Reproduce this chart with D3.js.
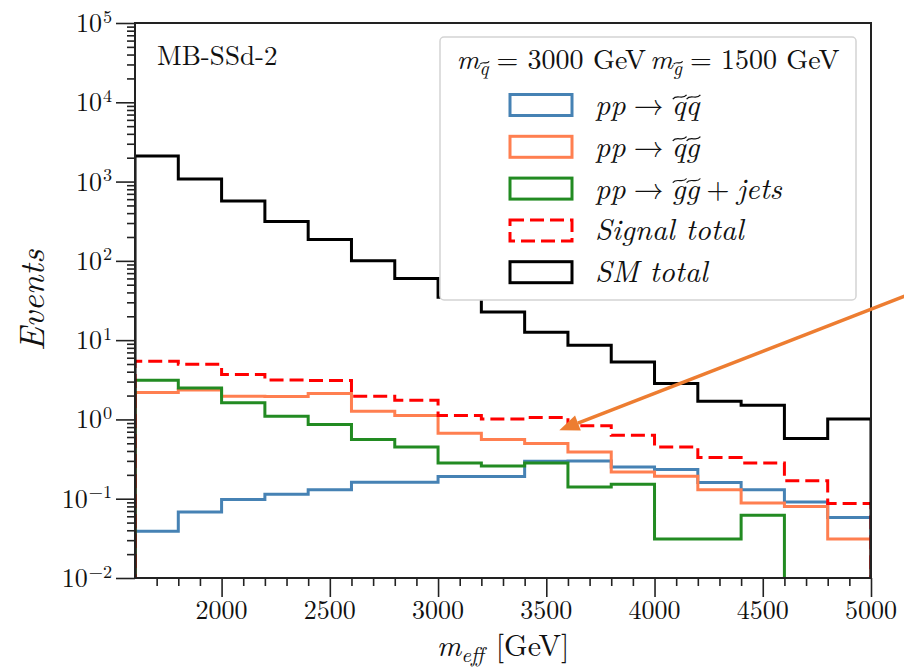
<!DOCTYPE html>
<html>
<head>
<meta charset="utf-8">
<script src="https://cdn.jsdelivr.net/npm/d3@7"></script>
<style>
body { margin: 0; background: #fff; }
svg text { font-family: "Latin Modern Roman", "Liberation Serif", serif; fill: #111; }
</style>
</head>
<body>
<svg width="904" height="670"></svg>
<script>
// bin edges in GeV (17 bins of 200 GeV)
var binEdges = [1600, 1800, 2000, 2200, 2400, 2600, 2800, 3000, 3200, 3400,
                3600, 3800, 4000, 4200, 4400, 4600, 4800, 5000];

// events per bin
var qqVals  = [0.039, 0.068, 0.098, 0.114, 0.130, 0.161, 0.161, 0.190, 0.190,
               0.297, 0.300, 0.252, 0.233, 0.160, 0.130, 0.091, 0.058];
var qgVals  = [2.18, 2.35, 1.96, 1.95, 2.12, 1.27, 1.12, 0.67, 0.557,
               0.497, 0.389, 0.218, 0.192, 0.130, 0.088, 0.080, 0.031];
var ggVals  = [3.12, 2.50, 1.62, 1.10, 0.86, 0.557, 0.45, 0.283, 0.259,
               0.283, 0.141, 0.152, 0.031, 0.031, 0.062, 0, 0];
var sigVals = [5.42, 4.97, 3.68, 3.15, 3.10, 1.96, 1.75, 1.12, 1.01,
               1.06, 0.83, 0.632, 0.45, 0.33, 0.283, 0.168, 0.087];
var smVals  = [2100, 1075, 567, 314, 186, 100, 60, 34.8, 22.7,
               12.6, 8.6, 5.3, 2.84, 1.70, 1.51, 0.574, 1.01];

var xMajorTicks = [2000, 2500, 3000, 3500, 4000, 4500, 5000];
var yMajorTicks = [1e-2, 1e-1, 1e0, 1e1, 1e2, 1e3, 1e4, 1e5];
var yExponents  = ["\u22122", "\u22121", "0", "1", "2", "3", "4", "5"];

// annotation arrow (data coords), starts outside the axes on the right
var arrowFrom = [5180, 38];
var arrowTo   = [3560, 0.73];

var series = [
  {vals: qqVals,  color: "#4682b4", dash: null},
  {vals: qgVals,  color: "#ff7f50", dash: null},
  {vals: ggVals,  color: "#228b22", dash: null},
  {vals: sigVals, color: "#ff0000", dash: "14,6"},
  {vals: smVals,  color: "#000000", dash: null}
];

var FONT = "'Latin Modern Roman', 'Liberation Serif', serif";

var svg = d3.select("svg"),
    margin = {left: 135, top: 23, right: 33, bottom: 92},
    width = +svg.attr("width") - margin.left - margin.right,
    height = +svg.attr("height") - margin.top - margin.bottom;

svg.append("rect").attr("width", 904).attr("height", 670).attr("fill", "#fff");

var x = d3.scaleLinear().domain([1600, 5000]).range([0, width]);
var y = d3.scaleLog().domain([1e-2, 1e5]).range([height, 0]);

var g = svg.append("g").attr("transform", "translate(" + margin.left + "," + margin.top + ")");

g.append("clipPath").attr("id", "plotclip")
  .append("rect").attr("width", width).attr("height", height);

// helper: write a run of text pieces (italic / sub / sup / tilde) one after another
function rich(parent, px, py, pieces, size, anchor) {
  var grp = parent.append("g");
  var cx = 0;
  pieces.forEach(function (p) {
    var fs = p.sub ? size * 0.7 : (p.sup ? size * 0.7 : size);
    var dy = p.sub ? size * 0.2 : (p.sup ? -size * 0.36 : 0);
    var t = grp.append("text")
      .attr("x", cx).attr("y", dy)
      .attr("font-family", FONT)
      .style("font-size", fs + "px")
      .style("font-style", p.it ? "italic" : "normal")
      .text(p.t);
    var w = t.node().getComputedTextLength();
    if (p.tilde) {
      var x0 = cx + w * 0.08, x1 = cx + w * 1.08, yb = dy - fs * 0.6, h = fs * 0.07;
      var wd = x1 - x0;
      grp.append("path")
        .attr("d", "M" + x0 + "," + (yb + h) +
                   "C" + (x0 + wd * 0.3) + "," + (yb - h * 1.6) + " " +
                   (x0 + wd * 0.7) + "," + (yb + h * 1.6) + " " +
                   x1 + "," + (yb - h))
        .attr("fill", "none").attr("stroke", "#111").attr("stroke-width", 1.2);
    }
    cx += w + (p.gap || 0);
  });
  var off = anchor == "middle" ? -cx / 2 : (anchor == "end" ? -cx : 0);
  grp.attr("transform", "translate(" + (px + off) + "," + py + ")");
  return grp;
}

// step histograms
function yv(v) { return v > 0 ? y(v) : height + 10; }

var line = d3.line()
  .x(function (d) { return x(d[0]); })
  .y(function (d) { return yv(d[1]); })
  .curve(d3.curveStepAfter);

series.forEach(function (s) {
  var pts = [[binEdges[0], 0]];
  s.vals.forEach(function (v, i) { pts.push([binEdges[i], v]); });
  pts.push([binEdges[binEdges.length - 1], s.vals[s.vals.length - 1]]);
  pts.push([binEdges[binEdges.length - 1], 0]);
  g.append("path")
    .attr("clip-path", "url(#plotclip)")
    .attr("d", line(pts))
    .attr("fill", "none")
    .attr("stroke", s.color)
    .attr("stroke-width", 3)
    .attr("stroke-dasharray", s.dash)
    .attr("stroke-linejoin", "miter");
});

// axes
var xMinor = d3.range(1700, 5000, 100).filter(function (d) { return d % 500 != 0; });
var yMinor = [];
yMajorTicks.slice(0, -1).forEach(function (d) {
  for (var k = 2; k < 10; k++) yMinor.push(d * k);
});

g.append("g").attr("transform", "translate(0," + height + ")")
  .call(d3.axisBottom(x).tickValues(xMinor).tickSize(8).tickFormat(""));
g.append("g").attr("transform", "translate(0," + height + ")")
  .call(d3.axisBottom(x).tickValues(xMajorTicks).tickSize(19).tickFormat(""));
g.append("g")
  .call(d3.axisLeft(y).tickValues(yMinor).tickSize(8).tickFormat(""));
g.append("g")
  .call(d3.axisLeft(y).tickValues(yMajorTicks).tickSize(19).tickFormat(""));

g.selectAll(".domain").remove();
g.selectAll(".tick line").attr("stroke", "#222").attr("stroke-width", 1.6);

xMajorTicks.forEach(function (d) {
  g.append("text")
    .attr("x", x(d)).attr("y", height + 41)
    .attr("text-anchor", "middle")
    .attr("font-family", FONT)
    .style("font-size", "26px")
    .text(d);
});

yMajorTicks.forEach(function (d, i) {
  rich(g, -23, y(d) + 9, [{t: "10", gap: 1}, {t: yExponents[i], sup: true}], 26, "end");
});

// spines
g.append("rect").attr("width", width).attr("height", height)
  .attr("fill", "none").attr("stroke", "#222").attr("stroke-width", 2);

// axis labels
rich(svg, margin.left + width / 2, 656,
     [{t: "m", it: true}, {t: "eff", it: true, sub: true, gap: 12}, {t: "[GeV]"}], 30, "middle");
var ylab = svg.append("g").attr("transform", "translate(44," + (margin.top + height / 2) + ") rotate(-90)");
rich(ylab, 0, 0, [{t: "Events", it: true}], 35, "middle");

// region tag
g.append("text").attr("x", 22).attr("y", 42)
  .attr("font-family", FONT).style("font-size", "27px").text("MB-SSd-2");

// legend
var lg = svg.append("g");
lg.append("rect")
  .attr("x", 440).attr("y", 37).attr("width", 416).attr("height", 263)
  .attr("rx", 4).attr("fill", "#fff")
  .attr("stroke", "#d4d4d4").attr("stroke-width", 1.5);

rich(lg, 648, 69, [
  {t: "m", it: true}, {t: "q", it: true, sub: true, tilde: true, gap: 8},
  {t: "= 3000 GeV ", gap: 4},
  {t: "m", it: true}, {t: "g", it: true, sub: true, tilde: true, gap: 8},
  {t: "= 1500 GeV"}
], 28, "middle");

var legendRows = [
  [{t: "pp", it: true, gap: 8}, {t: "\u2192", gap: 8}, {t: "q", it: true, tilde: true}, {t: "q", it: true, tilde: true}],
  [{t: "pp", it: true, gap: 8}, {t: "\u2192", gap: 8}, {t: "q", it: true, tilde: true}, {t: "g", it: true, tilde: true}],
  [{t: "pp", it: true, gap: 8}, {t: "\u2192", gap: 8}, {t: "g", it: true, tilde: true}, {t: "g", it: true, tilde: true, gap: 7}, {t: "+", gap: 7}, {t: "jets", it: true}],
  [{t: "Signal total", it: true}],
  [{t: "SM total", it: true}]
];

legendRows.forEach(function (row, i) {
  var cy = 105 + i * 41.8;
  var s = series[i];
  lg.append("rect")
    .attr("x", 510).attr("y", cy - 10.5).attr("width", 62).attr("height", 21)
    .attr("fill", "none").attr("stroke", s.color).attr("stroke-width", 3)
    .attr("stroke-dasharray", s.dash);
  rich(lg, 595, cy + 10, row, 30, "start");
});

// orange annotation arrow
var ax0 = margin.left + x(arrowFrom[0]), ay0 = margin.top + y(arrowFrom[1]);
var ax1 = margin.left + x(arrowTo[0]),   ay1 = margin.top + y(arrowTo[1]);
var ang = Math.atan2(ay1 - ay0, ax1 - ax0);
var headL = 20, headW = 8;
var bx = ax1 - headL * Math.cos(ang), by = ay1 - headL * Math.sin(ang);
svg.append("line")
  .attr("x1", ax0).attr("y1", ay0).attr("x2", bx).attr("y2", by)
  .attr("stroke", "#ed7d31").attr("stroke-width", 3.5);
svg.append("path")
  .attr("d", "M" + ax1 + "," + ay1 +
             "L" + (bx + headW * Math.sin(ang)) + "," + (by - headW * Math.cos(ang)) +
             "L" + (bx - headW * Math.sin(ang)) + "," + (by + headW * Math.cos(ang)) + "Z")
  .attr("fill", "#ed7d31");
</script>
</body>
</html>
